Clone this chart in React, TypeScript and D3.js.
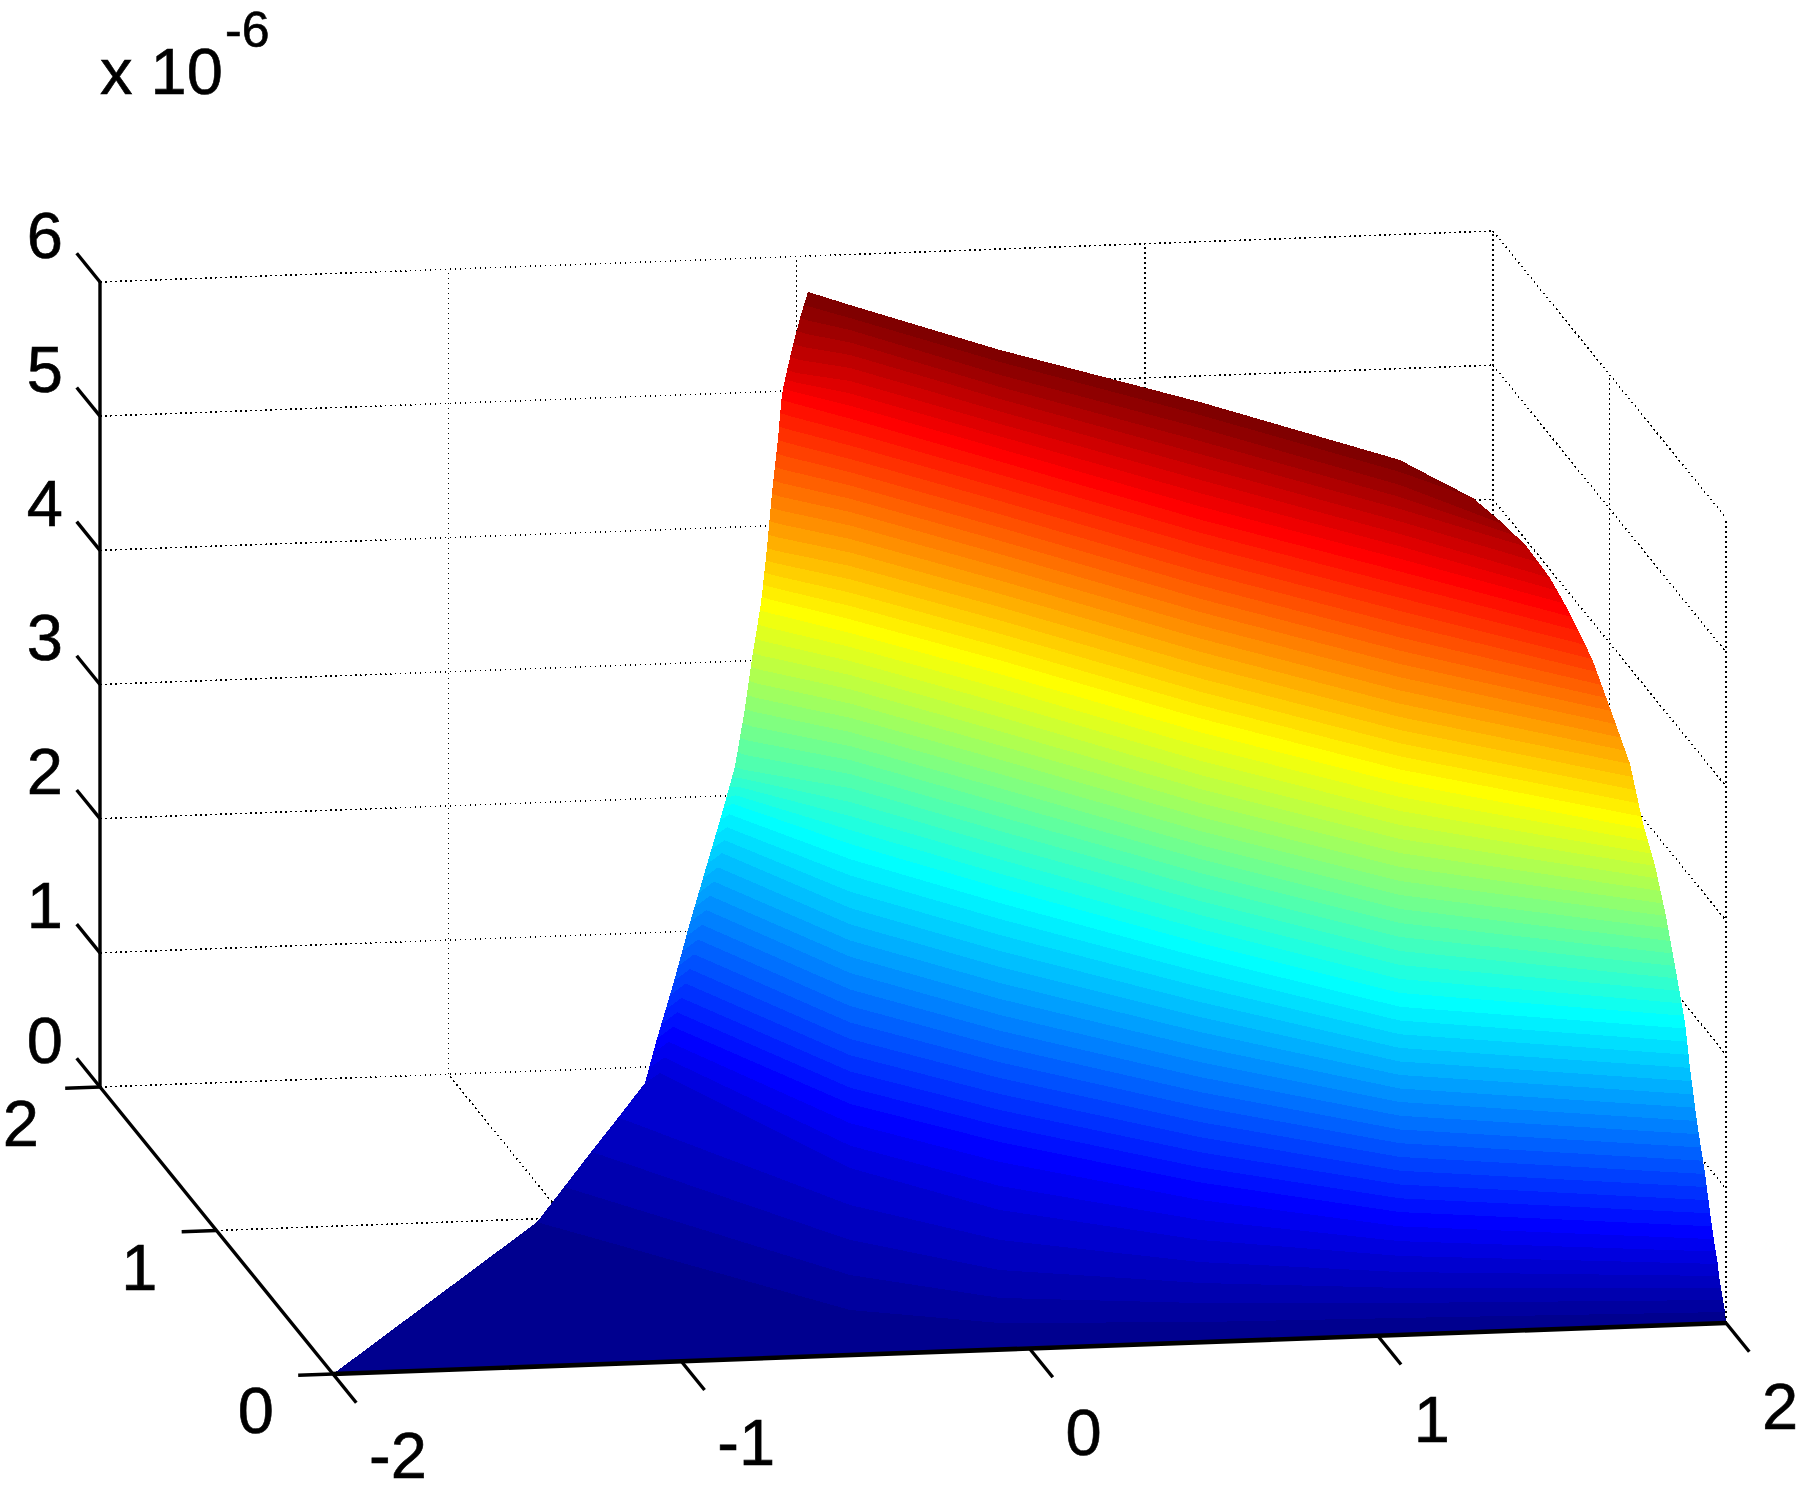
import React from 'react';
import * as d3 from 'd3';

const xTicks = [-2, -1, 0, 1, 2];
const yTicks = [0, 1, 2];
const zTicks = [0, 1, 2, 3, 4, 5, 6];
const zMax = 5.9; // units of 1e-6, top of the colour range
// Colour level (0..64) of each mesh row
const levels = [0,1,2,3,4,5,7.5,12,16,20,23.5,28,32,36,39.5,44,48,52,55.5,58,60,62,63,64];
// Sheet columns, left edge to right edge: x and y of each mesh row
const x1 = [-2.000,-1.115,-0.988,-0.862,-0.738,-0.611,-0.570,-0.495,-0.429,-0.362,-0.303,-0.289,-0.242,-0.205,-0.167,-0.152,-0.128,-0.101,-0.081,-0.085,-0.065,-0.043,-0.031,-0.018];
const y1 = [0,0.894,1.041,1.187,1.327,1.474,1.512,1.571,1.631,1.685,1.733,1.665,1.720,1.762,1.805,1.799,1.829,1.858,1.882,1.827,1.834,1.841,1.844,1.848];
const x2 = [-1.971,-1.094,-0.967,-0.841,-0.717,-0.547,-0.498,-0.424,-0.357,-0.296,-0.267,-0.268,-0.221,-0.183,-0.146,-0.131,-0.107,-0.080,-0.060,-0.064,-0.044,-0.022,-0.009,0.003];
const y2 = [0,0.872,1.018,1.165,1.304,1.537,1.589,1.648,1.708,1.755,1.765,1.642,1.697,1.739,1.783,1.777,1.806,1.835,1.859,1.804,1.812,1.818,1.822,1.825];
const x3 = [-0.515,-0.441,-0.390,-0.339,-0.288,-0.232,-0.175,-0.136,-0.098,-0.063,-0.032,-0.016,-0.001,0.016,0.029,0.039,0.049,0.057,0.066,0.066,0.069,0.069,0.068,0.070];
const y3 = [0,0.221,0.374,0.528,0.681,0.847,1.017,1.135,1.246,1.351,1.444,1.494,1.538,1.589,1.628,1.657,1.688,1.712,1.737,1.737,1.746,1.748,1.745,1.749];
const x4 = [-0.085,-0.053,-0.024,0.011,0.051,0.091,0.157,0.194,0.225,0.258,0.286,0.305,0.322,0.339,0.355,0.364,0.372,0.380,0.386,0.387,0.387,0.386,0.387,0.386];
const y4 = [0,0.096,0.182,0.287,0.407,0.526,0.723,0.833,0.925,1.023,1.109,1.166,1.217,1.268,1.313,1.342,1.366,1.390,1.409,1.409,1.411,1.406,1.410,1.408];
const x5 = [0.489,0.507,0.522,0.540,0.559,0.581,0.624,0.652,0.676,0.700,0.720,0.736,0.751,0.766,0.781,0.791,0.799,0.807,0.813,0.818,0.820,0.823,0.825,0.826];
const y5 = [0,0.053,0.098,0.150,0.208,0.274,0.403,0.486,0.557,0.629,0.688,0.737,0.781,0.826,0.871,0.900,0.924,0.948,0.966,0.981,0.989,0.998,1.002,1.006];
const x6 = [1.064,1.074,1.080,1.086,1.094,1.103,1.116,1.131,1.143,1.153,1.164,1.181,1.196,1.210,1.223,1.231,1.239,1.247,1.253,1.253,1.254,1.252,1.253,1.253];
const y6 = [0,0.031,0.049,0.067,0.091,0.116,0.157,0.200,0.237,0.268,0.300,0.349,0.393,0.438,0.476,0.499,0.523,0.547,0.565,0.566,0.567,0.562,0.567,0.564];
const x7 = [2.000,1.994,1.988,1.981,1.975,1.971,1.957,1.943,1.928,1.917,1.909,1.882,1.858,1.829,1.794,1.766,1.721,1.674,1.620,1.572,1.522,1.454,1.398,1.273];
const y7 = [0,-0.009,-0.011,-0.013,-0.015,-0.017,-0.015,0.009,0.035,0.061,0.080,0.085,0.091,0.097,0.098,0.124,0.152,0.174,0.219,0.231,0.279,0.266,0.373,0.513];

const xCols = [x1, x2, x3, x4, x5, x6, x7];
const yCols = [y1, y2, y3, y4, y5, y6, y7];

const xPx = d3.scaleLinear().domain([-2, 2]).range([333, 1726]);
const xPy = d3.scaleLinear().domain([-2, 2]).range([1374, 1323]);
const yPx = d3.scaleLinear().domain([0, 2]).range([0, -233]);
const yPy = d3.scaleLinear().domain([0, 2]).range([0, -287]);
const zPy = d3.scaleLinear().domain([0, 6]).range([0, -805]);
const P = (x: number, y: number, z: number): [number, number] => [xPx(x) + yPx(y), xPy(x) + yPy(y) + zPy(z)];

function jet(b: number) {
  const v = (b + 1) / 16;
  const f = (c: number) => Math.round(255 * Math.max(0, Math.min(1, c)));
  return `rgb(${f(Math.min(v - 1.5, 4.5 - v))},${f(Math.min(v - 0.5, 3.5 - v))},${f(Math.min(v + 0.5, 2.5 - v))})`;
}

const rowAt = d3.scaleLinear().domain(levels).range(levels.map((_, i) => i));

function contour(t: number): [number, number][] {
  const r = rowAt(t);
  const i = Math.min(levels.length - 2, Math.floor(r));
  const f = r - i;
  return xCols.map((xc, c) => P(
    d3.interpolateNumber(xc[i], xc[i + 1])(f),
    d3.interpolateNumber(yCols[c][i], yCols[c][i + 1])(f),
    (t / 64) * zMax,
  ));
}

const line = d3.line();

export default function App() {
  const bands = d3.range(63, -1, -1);
  const seg = (a: [number, number], b: [number, number], k: string, cls: any) => (
    <line key={k} x1={a[0]} y1={a[1]} x2={b[0]} y2={b[1]} {...cls} />
  );
  const dot = { stroke: '#000', strokeWidth: 1.5, strokeDasharray: '1.7 3.3', fill: 'none', shapeRendering: 'crispEdges' };
  const solid = { stroke: '#000', strokeWidth: 3.4 };
  const font = 'Liberation Sans, Arial, sans-serif';
  return (
    <svg width={1800} height={1500} style={{ position: 'absolute', left: 0, top: 0, background: '#fff' }}>
      <g>
        {zTicks.map(z => seg(P(-2, 2, z), P(2, 2, z), `bz${z}`, dot))}
        {zTicks.map(z => seg(P(2, 2, z), P(2, 0, z), `sz${z}`, dot))}
        {xTicks.slice(1).map(x => seg(P(x, 2, 0), P(x, 2, 6), `bv${x}`, dot))}
        {yTicks.slice(0, 2).map(y => seg(P(2, y, 0), P(2, y, 6), `sv${y}`, dot))}
        {xTicks.slice(1, 4).map(x => seg(P(x, 0, 0), P(x, 2, 0), `fx${x}`, dot))}
        {seg(P(-2, 1, 0), P(2, 1, 0), 'fy1', dot)}
      </g>
      <g shapeRendering="crispEdges">
        {bands.map(b => {
          const top = contour(b + 1);
          const mid = contour(b);
          const low = contour(Math.max(0, b - 1));
          const pts = [...top, mid[mid.length - 1], ...low.slice(1, -1).reverse(), mid[0]];
          return <path key={b} d={line(pts) + 'Z'} fill={jet(b)} />;
        })}
      </g>
      <g>
        {seg(P(-2, 2, 0), P(-2, 2, 6), 'zAxis', solid)}
        {seg(P(-2, 2, 0), P(-2, 0, 0), 'yAxis', solid)}
        {seg(P(-2, 0, 0), P(2, 0, 0), 'xAxis', { stroke: '#000', strokeWidth: 4.6 })}
        {zTicks.map(z => seg(P(-2, 2, z), P(-2, 2.2, z), `zt${z}`, solid))}
        {yTicks.map(y => seg(P(-2, y, 0), P(-2.1, y, 0), `yt${y}`, solid))}
        {xTicks.map(x => seg(P(x, 0, 0), P(x, -0.2, 0), `xt${x}`, solid))}
      </g>
      <g fontFamily={font} fontSize={65} fill="#000" stroke="#000" strokeWidth={0.6}>
        {zTicks.map(z => { const p = P(-2, 2, z); return <text key={z} x={63} y={p[1] - 24.5} textAnchor="end">{z}</text>; })}
        {yTicks.map(y => { const p = P(-2, y, 0); return <text key={y} x={p[0] - (y < 2 ? 59 : 61)} y={p[1] + 59} textAnchor="end">{y}</text>; })}
        {xTicks.map(x => { const p = P(x, 0, 0); return <text key={x} x={p[0] + (x < 0 ? 65 : 54)} y={p[1] + (x < 0 ? 104 : 106)} textAnchor="middle">{x}</text>; })}
        <text x={100} y={94}>x 10</text>
        <text x={225} y={47} fontSize={50}>-6</text>
      </g>
    </svg>
  );
}
